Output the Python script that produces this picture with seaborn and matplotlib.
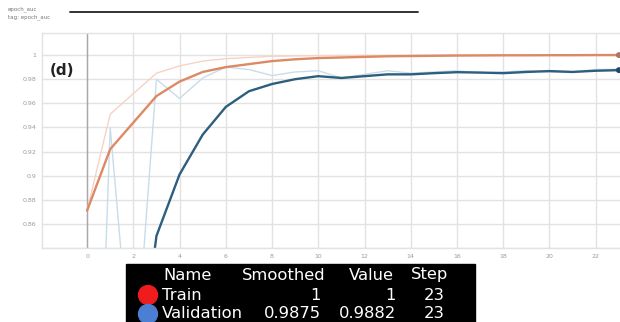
import matplotlib
matplotlib.use("Agg")
import matplotlib.pyplot as plt
import seaborn as sns
import pandas as pd
from matplotlib.patches import Rectangle, Circle

# ---- data ----
steps = list(range(24))
train_value = [0.871, 0.951, 0.968, 0.985, 0.991, 0.995, 0.997, 0.998, 0.999, 0.9993,
               0.9995, 0.9997, 0.9998, 0.9998, 0.9999, 0.9999, 1.0, 1.0, 1.0, 1.0,
               1.0, 1.0, 1.0, 1.0]
train_smoothed = [0.871, 0.922, 0.944, 0.966, 0.978, 0.986, 0.990, 0.9925, 0.995, 0.9965,
                  0.9975, 0.998, 0.9985, 0.999, 0.9992, 0.9994, 0.9996, 0.9997, 0.9998, 0.9998,
                  0.9999, 0.9999, 1.0, 1.0]
val_value = [0.40, 0.94, 0.72, 0.980, 0.964, 0.981, 0.990, 0.988, 0.983, 0.986,
             0.987, 0.981, 0.984, 0.987, 0.985, 0.986, 0.987, 0.985, 0.986, 0.987,
             0.986, 0.986, 0.988, 0.9882]
val_smoothed = [0.40, 0.66, 0.70, 0.850, 0.901, 0.934, 0.957, 0.970, 0.976, 0.980,
                0.9825, 0.981, 0.9825, 0.984, 0.984, 0.985, 0.9858, 0.9855, 0.985, 0.986,
                0.9867, 0.986, 0.987, 0.9875]
y_ticks = [0.86, 0.88, 0.90, 0.92, 0.94, 0.96, 0.98, 1.0]
y_tick_labels = ["0.86", "0.88", "0.9", "0.92", "0.94", "0.96", "0.98", "1"]
x_ticks = list(range(0, 23, 2))
legend_header = ["Name", "Smoothed", "Value", "Step"]
legend_names = ["Train", "Validation"]
legend_smoothed = ["1", "0.9875"]
legend_values = ["1", "0.9882"]
legend_steps = ["23", "23"]
legend_colors = ["#ee1c1c", "#4a7fd4"]
panel_label = "(d)"
title_lines = ["epoch_auc", "tag: epoch_auc"]

sns.set_style("white")
plt.rcParams["font.family"] = ["DejaVu Sans"]

fig = plt.figure(figsize=(6.2, 3.22), dpi=100)
ax = fig.add_axes([42 / 620, 1 - 248 / 322, 578 / 620, (248 - 33) / 322])

df = pd.DataFrame({"step": steps, "tv": train_value, "ts": train_smoothed,
                   "vv": val_value, "vs": val_smoothed})

sns.lineplot(data=df, x="step", y="tv", ax=ax, color="#f6d3c6", lw=1.0)
sns.lineplot(data=df, x="step", y="vv", ax=ax, color="#c9dcea", lw=1.0)
sns.lineplot(data=df, x="step", y="ts", ax=ax, color="#dc8a66", lw=1.7)
sns.lineplot(data=df, x="step", y="vs", ax=ax, color="#2d5e7e", lw=1.7)
sns.scatterplot(x=[steps[-1]], y=[train_smoothed[-1]], ax=ax, color="#a9766a", s=18,
                edgecolor="none", zorder=5, clip_on=False)
sns.scatterplot(x=[steps[-1]], y=[val_smoothed[-1]], ax=ax, color="#1f4b6b", s=18,
                edgecolor="none", zorder=5, clip_on=False)

ax.set_xlim(-1.95, 23.05)
ax.set_ylim(0.84, 1.0183)
ax.set_xticks(x_ticks)
ax.set_xticklabels([str(t) for t in x_ticks])
ax.set_yticks([0.84] + y_ticks)
ax.set_yticklabels([""] + y_tick_labels)
ax.grid(True, color="#e2e2e2", lw=1.0)
ax.axvline(0, color="#a8a8a8", lw=1.0, zorder=1)
ax.tick_params(axis="both", labelsize=4.5, colors="#9a9a9a", length=0, pad=4)
for s in ax.spines.values():
    s.set_color("#e2e2e2")
    s.set_linewidth(1.0)
ax.spines["right"].set_visible(False)
ax.set_xlabel("")
ax.set_ylabel("")

# overlay in pixel coordinates
ov = fig.add_axes([0, 0, 1, 1], zorder=10)
ov.set_xlim(0, 620)
ov.set_ylim(322, 0)
ov.axis("off")
ov.patch.set_alpha(0)

ov.text(50, 70, panel_label, fontsize=11, fontweight="bold", color="#222222",
        va="center", ha="left")
ov.text(8, 9, title_lines[0], fontsize=4, color="#777777", va="center")
ov.text(8, 17, title_lines[1], fontsize=4, color="#777777", va="center")
ov.plot([70, 418], [12, 12], color="#222222", lw=1.3)

fs = 11.8
ov.add_patch(Rectangle((126, 264), 349, 60, color="black", zorder=1))
hdr_x = [163, 242, 349, 411]
for h, x in zip(legend_header, hdr_x):
    ov.text(x, 275, h, fontsize=fs, color="white", ha="left", va="center", zorder=3)
row_y = [295, 314]
for i in range(2):
    y = row_y[i]
    ov.add_patch(Circle((148, y), 9.5, color=legend_colors[i], zorder=2))
    ov.text(162, y, legend_names[i], fontsize=fs, color="white", ha="left", va="center", zorder=3)
    ov.text(321, y, legend_smoothed[i], fontsize=fs, color="white", ha="right", va="center", zorder=3)
    ov.text(396, y, legend_values[i], fontsize=fs, color="white", ha="right", va="center", zorder=3)
    ov.text(445, y, legend_steps[i], fontsize=fs, color="white", ha="right", va="center", zorder=3)

fig.savefig("out.png", dpi=100)
